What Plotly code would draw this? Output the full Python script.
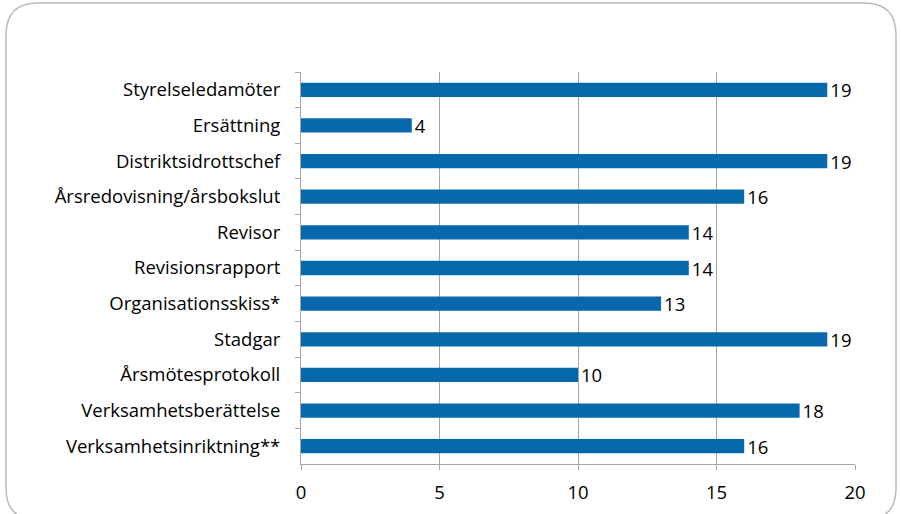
import plotly.graph_objects as go

categories = ["Styrelseledamöter", "Ersättning", "Distriktsidrottschef",
              "Årsredovisning/årsbokslut", "Revisor", "Revisionsrapport",
              "Organisationsskiss*", "Stadgar", "Årsmötesprotokoll",
              "Verksamhetsberättelse", "Verksamhetsinriktning**"]
values = [19, 4, 19, 16, 14, 14, 13, 19, 10, 18, 16]
x_ticks = [0, 5, 10, 15, 20]

W, H = 901, 514
L, R, T, B = 301, 46, 72, 50
pw, ph = W - L - R, H - T - B
FS = 18.5

def px(x):
    return (x - L) / pw

def py(y):
    return (H - B - y) / ph

fig = go.Figure(go.Bar(
    x=values, y=categories, orientation="h",
    marker=dict(color="#0868AC", line=dict(width=0)),
    text=[str(v) for v in values], textposition="outside",
    textfont=dict(size=FS, color="#000000"),
    constraintext="none",
    cliponaxis=False,
))

# rounded border
x0, y0, x1, y1, r = 6, 3, 896, 520, 32
path = (f"M {px(x0)},{py(y0 + r)} "
        f"Q {px(x0)},{py(y0)} {px(x0 + r)},{py(y0)} "
        f"L {px(x1 - r)},{py(y0)} "
        f"Q {px(x1)},{py(y0)} {px(x1)},{py(y0 + r)} "
        f"L {px(x1)},{py(y1 - r)} "
        f"Q {px(x1)},{py(y1)} {px(x1 - r)},{py(y1)} "
        f"L {px(x0 + r)},{py(y1)} "
        f"Q {px(x0)},{py(y1)} {px(x0)},{py(y1 - r)} Z")

fig.update_layout(
    width=W, height=H,
    margin=dict(l=L, r=R, t=T, b=B, autoexpand=False),
    paper_bgcolor="white", plot_bgcolor="white",
    font=dict(family="'Open Sans', sans-serif", size=FS, color="#000000"),
    bargap=0.6,
    showlegend=False,
    shapes=[dict(type="path", path=path, xref="paper", yref="paper",
                 line=dict(color="#BBBBBB", width=1.5), layer="below")],
    xaxis=dict(range=[0, 20], tickvals=x_ticks, showgrid=True,
               gridcolor="#A6A6A6", gridwidth=1, zeroline=False,
               showline=True, linecolor="#A6A6A6", ticks="outside",
               ticklen=5, tickcolor="#A6A6A6", tickfont=dict(size=FS),
               ticklabelstandoff=7, automargin=False),
    yaxis=dict(autorange="reversed", showline=True, linecolor="#A6A6A6",
               ticks="outside", ticklen=5, tickcolor="#A6A6A6",
               tickson="boundaries", showgrid=False, tickfont=dict(size=FS),
               ticklabelstandoff=16, automargin=False),
)

fig.write_html("out.html", config={"displayModeBar": False},
               post_script="document.body.style.margin='0';document.body.style.padding='0';")
